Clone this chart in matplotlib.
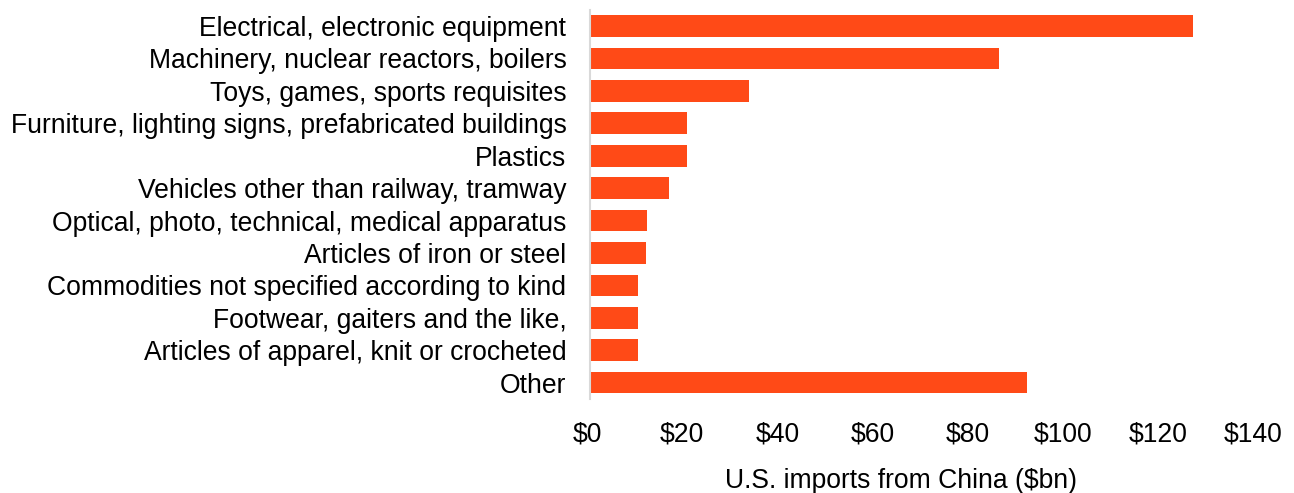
import matplotlib.pyplot as plt
from matplotlib.transforms import ScaledTranslation
import numpy as np

# US imports from China by product category, $bn
categories = [
    "Electrical, electronic equipment",
    "Machinery, nuclear reactors, boilers",
    "Toys, games, sports requisites",
    "Furniture, lighting signs, prefabricated buildings",
    "Plastics",
    "Vehicles other than railway, tramway",
    "Optical, photo, technical, medical apparatus",
    "Articles of iron or steel",
    "Commodities not specified according to kind",
    "Footwear, gaiters and the like,",
    "Articles of apparel, knit or crocheted",
    "Other",
]
imports_bn = [126.7, 85.9, 33.4, 20.4, 20.3, 16.5, 11.9, 11.8, 10.1, 10.1, 10.1, 91.8]
xticks = [0, 20, 40, 60, 80, 100, 120, 140]

plt.rcParams['font.family'] = ['Liberation Sans', 'DejaVu Sans']

fig = plt.figure(figsize=(12.94, 4.93), dpi=100)
ax = fig.add_axes([0.4560, 0.191, 0.5147, 0.789])

y = np.arange(len(categories))
ax.barh(y, imports_bn, height=0.67, color='#FF4A17')

ax.set_ylim(len(categories) - 0.5, -0.5)
ax.set_yticks(y)
ax.set_yticklabels(categories, fontsize=19.1, color='black')
ax.set_xlim(0, 140)
ax.set_xticks(xticks)
ax.set_xticklabels([f"${v}" for v in xticks], fontsize=19.1, color='black')
ax.tick_params(axis='y', length=0, pad=17)
ax.tick_params(axis='x', length=0, pad=16)

# nudge the dollar labels a touch to the left
shift = ScaledTranslation(-3 / 100, 0, fig.dpi_scale_trans)
for lbl in ax.get_xticklabels():
    lbl.set_transform(lbl.get_transform() + shift)

for side in ['top', 'right', 'bottom']:
    ax.spines[side].set_visible(False)
ax.spines['left'].set_color('#D9D9D9')
ax.spines['left'].set_linewidth(1.5)

fig.text(0.696, 0.025, "U.S. imports from China ($bn)", fontsize=19.1,
         ha='center', va='center', color='black')

fig.savefig('out.png', dpi=100)
